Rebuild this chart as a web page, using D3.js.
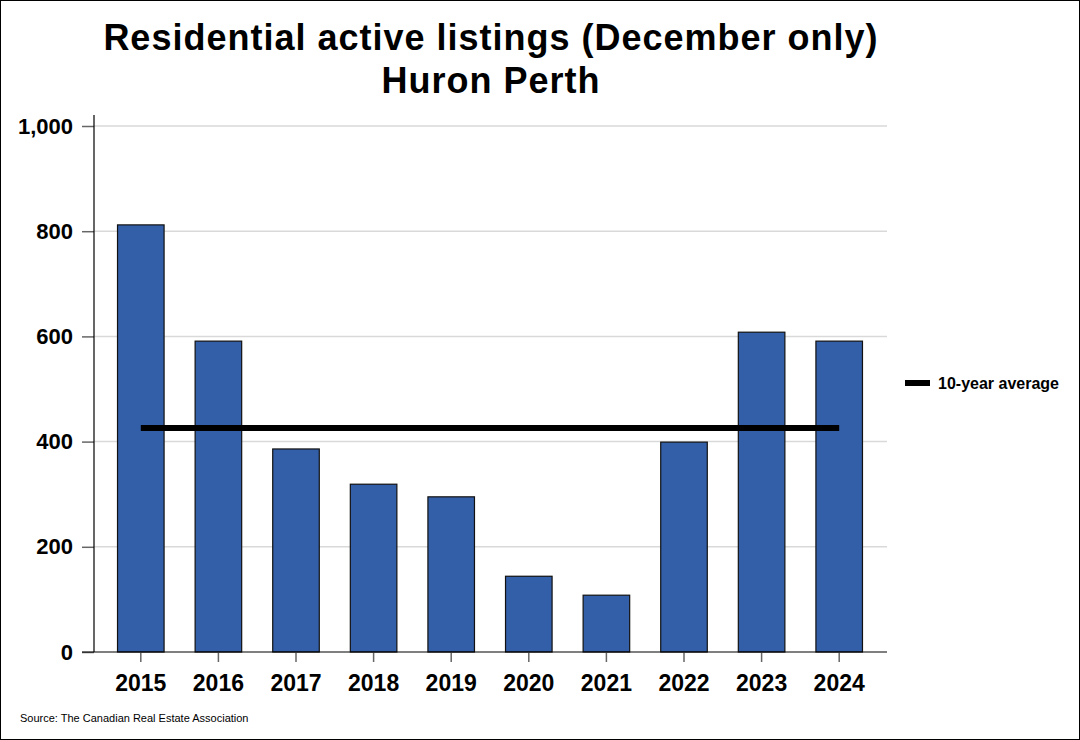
<!DOCTYPE html>
<html>
<head>
<meta charset="utf-8">
<script src="https://cdn.jsdelivr.net/npm/d3@7"></script>
<style>
  body { margin: 0; background: #fff; }
  svg { display: block; font-family: "Liberation Sans", Arial, sans-serif; }
</style>
</head>
<body>
<svg id="chart" width="1080" height="740"></svg>
<script>
// data
const years = ["2015", "2016", "2017", "2018", "2019", "2020", "2021", "2022", "2023", "2024"]
const listings = [812, 591, 386, 319, 295, 144, 108, 399, 608, 591]
const tenYearAverage = 426
const yTicks = [0, 200, 400, 600, 800, 1000]

const svg = d3.select("#chart")
const W = 1080, H = 740

// border
svg.append("rect")
    .attr("x", 0.5).attr("y", 0.5)
    .attr("width", W - 1).attr("height", H - 1)
    .attr("fill", "white").attr("stroke", "black")

// title
const title = svg.append("text")
    .attr("text-anchor", "middle")
    .attr("font-weight", "bold")
    .attr("font-size", 36)
    .attr("letter-spacing", 1)
title.append("tspan").attr("x", 491).attr("y", 50).text("Residential active listings (December only)")
title.append("tspan").attr("x", 491).attr("y", 93).text("Huron Perth")

// scales
const plot = { left: 94, right: 887, top: 126, bottom: 652 }
const x = d3.scaleBand()
    .domain(years)
    .range([102, 878])
    .paddingInner(0.4)
    .paddingOuter(0.2)
const y = d3.scaleLinear()
    .domain([0, 1000])
    .range([plot.bottom, plot.top])

// gridlines
svg.append("g")
    .selectAll("line")
    .data(yTicks.filter(d => d > 0))
    .enter()
    .append("line")
    .attr("x1", plot.left).attr("x2", plot.right)
    .attr("y1", d => y(d)).attr("y2", d => y(d))
    .attr("stroke", "#d9d9d9")
    .attr("stroke-width", 1.5)

// bars
svg.append("g")
    .selectAll("rect")
    .data(years)
    .enter()
    .append("rect")
    .attr("x", d => x(d))
    .attr("width", x.bandwidth())
    .attr("y", (d, i) => y(listings[i]))
    .attr("height", (d, i) => y(0) - y(listings[i]))
    .attr("fill", "#335ea8")
    .attr("stroke", "#111")
    .attr("stroke-width", 1.2)

// average line
svg.append("line")
    .attr("x1", x(years[0]) + x.bandwidth() / 2)
    .attr("x2", x(years[years.length - 1]) + x.bandwidth() / 2)
    .attr("y1", y(tenYearAverage)).attr("y2", y(tenYearAverage))
    .attr("stroke", "black")
    .attr("stroke-width", 6)

// y axis
const yAxis = svg.append("g")
    .attr("transform", `translate(${plot.left},0)`)
    .call(d3.axisLeft(y).tickValues(yTicks).tickSize(12).tickPadding(9).tickFormat(d3.format(",")))
yAxis.select(".domain").remove()
yAxis.selectAll(".tick line").attr("stroke", "#666").attr("stroke-width", 1.5)
yAxis.selectAll(".tick text")
    .attr("font-size", 22).attr("font-weight", "bold")
    .attr("font-family", "Liberation Sans, Arial, sans-serif")
    .attr("fill", "black")
svg.append("line")
    .attr("x1", plot.left).attr("x2", plot.left)
    .attr("y1", 115).attr("y2", plot.bottom)
    .attr("stroke", "black").attr("stroke-width", 1.2)

// x axis
const xAxis = svg.append("g")
    .attr("transform", `translate(0,${plot.bottom})`)
    .call(d3.axisBottom(x).tickSize(10).tickPadding(13))
xAxis.select(".domain").remove()
xAxis.selectAll(".tick line").attr("stroke", "#666").attr("stroke-width", 1.5)
xAxis.selectAll(".tick text")
    .attr("font-size", 23).attr("font-weight", "bold")
    .attr("font-family", "Liberation Sans, Arial, sans-serif")
    .attr("fill", "black")
svg.append("line")
    .attr("x1", 82).attr("x2", plot.right)
    .attr("y1", plot.bottom).attr("y2", plot.bottom)
    .attr("stroke", "black").attr("stroke-width", 1.2)

// legend
svg.append("line")
    .attr("x1", 905).attr("x2", 930)
    .attr("y1", 383).attr("y2", 383)
    .attr("stroke", "black").attr("stroke-width", 6)
svg.append("text")
    .attr("x", 938).attr("y", 389)
    .attr("font-size", 16).attr("font-weight", "bold")
    .text("10-year average")

// source
svg.append("text")
    .attr("x", 20).attr("y", 722)
    .attr("font-size", 11)
    .text("Source: The Canadian Real Estate Association")
</script>
</body>
</html>
